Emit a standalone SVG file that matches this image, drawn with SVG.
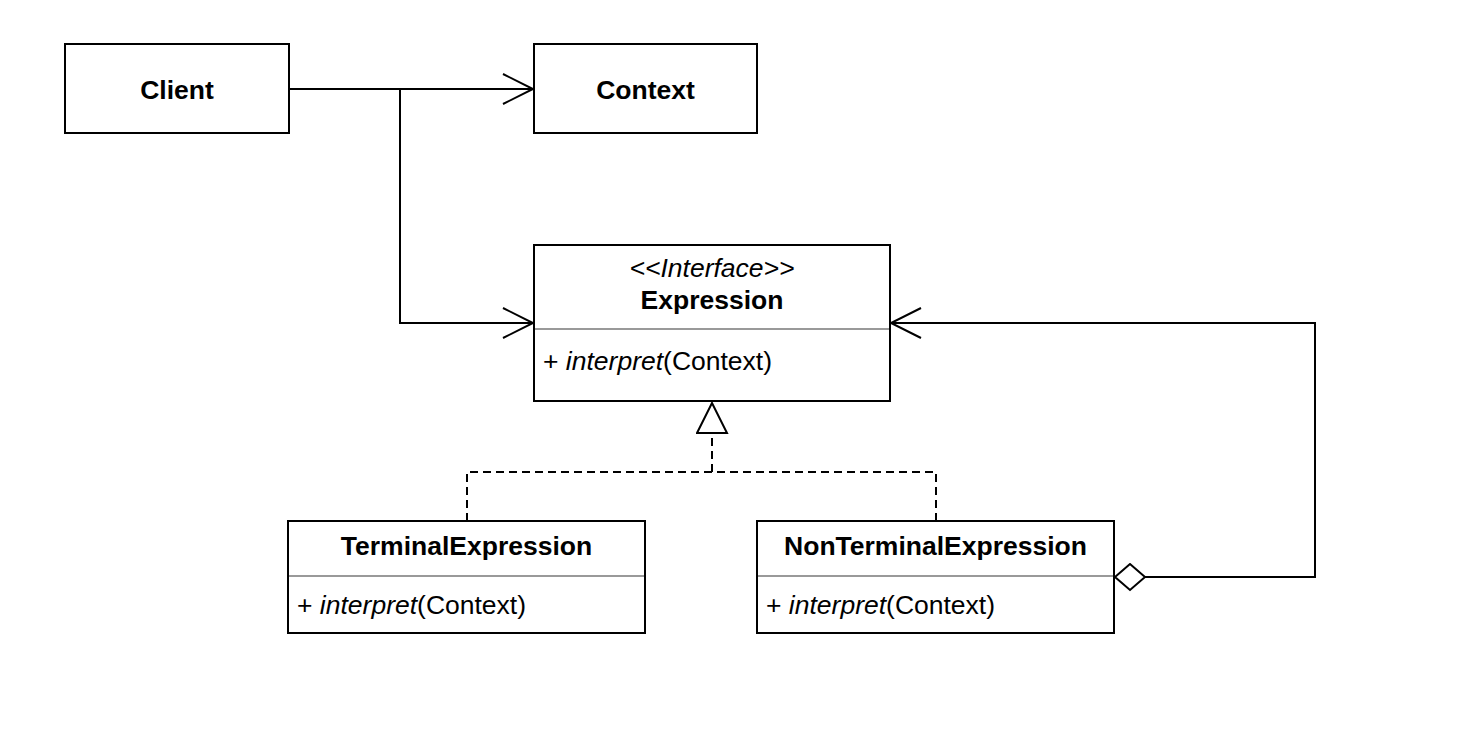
<svg xmlns="http://www.w3.org/2000/svg" width="1468" height="735" viewBox="0 0 1468 735">
<style>
.box{fill:#fff;stroke:#000;stroke-width:2}
.div{stroke:#999;stroke-width:2}
.t{font-family:"Liberation Sans",Arial,sans-serif;font-size:26.5px;fill:#000}
.b{font-weight:bold}
.i{font-style:italic}
.c{text-anchor:middle}
.ln{fill:none;stroke:#000;stroke-width:2}
.dash{stroke-dasharray:8 5}
</style>
<defs>
<marker id="open" markerUnits="userSpaceOnUse" markerWidth="34" markerHeight="34" refX="31" refY="16" orient="auto" viewBox="0 0 34 34">
<path d="M1,1 L31,16 L1,31" fill="none" stroke="#000" stroke-width="2"/>
</marker>
<marker id="tri" markerUnits="userSpaceOnUse" markerWidth="34" markerHeight="34" refX="31" refY="16" orient="auto" viewBox="0 0 34 34">
<path d="M1,1 L31,16 L1,31 Z" fill="#fff" stroke="#000" stroke-width="2"/>
</marker>
<marker id="dia" markerUnits="userSpaceOnUse" markerWidth="34" markerHeight="30" refX="1" refY="14" orient="auto" viewBox="0 0 34 30">
<path d="M1,14 L16,1 L31,14 L16,27 Z" fill="#fff" stroke="#000" stroke-width="2"/>
</marker>
</defs>
<rect width="1468" height="735" fill="#fff"/>
<g id="connectors">
<path class="ln" d="M289,89 H533" marker-end="url(#open)"/>
<path class="ln" d="M400,89 V323 H533" marker-end="url(#open)"/>
<path class="ln dash" d="M467,521 V472 H936 V521"/>
<path class="ln dash" d="M712,472 V403" marker-end="url(#tri)"/>
<path class="ln" d="M1115,577 H1315 V323 H891" marker-start="url(#dia)" marker-end="url(#open)"/>
</g>
<g id="client">
<rect class="box" x="65" y="44" width="224" height="89"/>
<text class="t b c" x="177" y="99">Client</text>
</g>
<g id="context">
<rect class="box" x="534" y="44" width="223" height="89"/>
<text class="t b c" x="645.5" y="99">Context</text>
</g>
<g id="expression">
<rect class="box" x="534" y="245" width="356" height="156"/>
<text class="t i c" x="712" y="277">&lt;&lt;Interface&gt;&gt;</text>
<text class="t b c" x="712" y="309">Expression</text>
<line class="div" x1="535" y1="329" x2="889" y2="329"/>
<text class="t" x="543" y="370">+ <tspan class="i">interpret</tspan>(Context)</text>
</g>
<g id="terminal">
<rect class="box" x="288" y="521" width="357" height="112"/>
<text class="t b c" x="466.5" y="555">TerminalExpression</text>
<line class="div" x1="289" y1="576" x2="644" y2="576"/>
<text class="t" x="297" y="614">+ <tspan class="i">interpret</tspan>(Context)</text>
</g>
<g id="nonterminal">
<rect class="box" x="757" y="521" width="357" height="112"/>
<text class="t b c" x="935.5" y="555">NonTerminalExpression</text>
<line class="div" x1="758" y1="576" x2="1113" y2="576"/>
<text class="t" x="766" y="614">+ <tspan class="i">interpret</tspan>(Context)</text>
</g>
</svg>
